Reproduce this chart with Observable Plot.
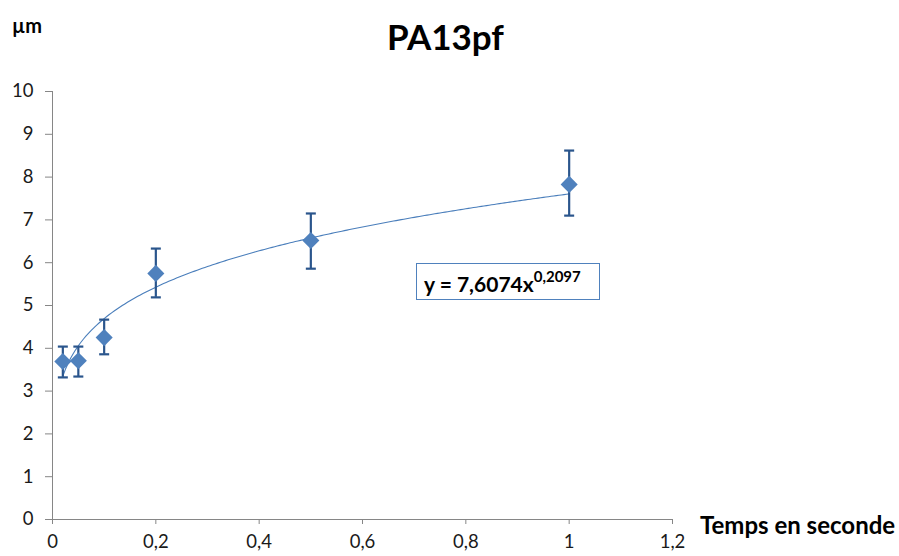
<!DOCTYPE html>
<html>
<head>
<meta charset="utf-8">
<script src="https://cdn.jsdelivr.net/npm/d3@7"></script>
<script src="https://cdn.jsdelivr.net/npm/@observablehq/plot@0.6"></script>
<style>
  html, body { margin: 0; padding: 0; background: #fff; }
  body { font-family: Lato, "Open Sans", sans-serif; }
  #wrap { position: relative; width: 899px; height: 556px; }
  #wrap svg { position: absolute; left: 0; top: 0; }
  .title { position: absolute; left: 387px; top: 19px; font-weight: bold; font-size: 35px; line-height: 1; color: #000; }
  .ylab { position: absolute; left: 12px; top: 15px; font-weight: bold; font-size: 20px; line-height: 1; }
  .xlab { position: absolute; left: 700px; top: 513px; font-weight: bold; font-size: 24px; line-height: 1; white-space: nowrap; }
  .eq { position: absolute; left: 416px; top: 263px; width: 184px; height: 37px; border: 1.5px solid #4f81bd; box-sizing: border-box; background: #fff; font-weight: bold; font-size: 21px; line-height: 1; padding: 9px 0 0 7px; white-space: nowrap; }
  .eq sup { font-size: 15px; position: relative; top: -4px; vertical-align: top; }
</style>
</head>
<body>
<div id="wrap"></div>
<script>
// ---- data ----
const times = [0.02, 0.05, 0.1, 0.2, 0.5, 1];
const means = [3.69, 3.71, 4.25, 5.75, 6.52, 7.83];
const upper = [4.04, 4.04, 4.67, 6.33, 7.15, 8.62];
const lower = [3.32, 3.34, 3.86, 5.19, 5.86, 7.10];
const xTicks = [0, 0.2, 0.4, 0.6, 0.8, 1, 1.2];
const xTickLabels = ["0", "0,2", "0,4", "0,6", "0,8", "1", "1,2"];
const yTicks = [0, 1, 2, 3, 4, 5, 6, 7, 8, 9, 10];
const yTickLabels = ["0", "1", "2", "3", "4", "5", "6", "7", "8", "9", "10"];
const eqA = 7.6074, eqB = 0.2097;   // trendline equation shown on chart
const titleText = "PA13pf";
const yLabel = "µm";
const xLabel = "Temps en seconde";

const data = times.map((t, i) => ({t, m: means[i], hi: upper[i], lo: lower[i]}));
const trend = d3.range(times[0], times[times.length - 1] + 1e-9, 0.005).map(t => ({t, v: eqA * Math.pow(t, eqB)}));

const cap = { draw(ctx) { ctx.moveTo(-5, 0); ctx.lineTo(5, 0); } };
const navy = "#2a558c";
const blue = "#4f81bd";
const grey = "#868686";

const chart = Plot.plot({
  width: 899, height: 556,
  marginLeft: 52, marginRight: 227, marginTop: 91, marginBottom: 37,
  style: { fontFamily: "Lato, 'Open Sans', sans-serif", fontSize: "18.5px", color: "#000", background: "transparent" },
  x: { domain: [0, 1.2] },
  y: { domain: [0, 10] },
  marks: [
    Plot.axisX({ ticks: xTicks, tickFormat: d => xTickLabels[xTicks.indexOf(d)], tickSize: 5, tickPadding: 10, stroke: grey, fill: "#1a1a1a", label: null }),
    Plot.axisY({ ticks: yTicks, tickFormat: d => yTickLabels[yTicks.indexOf(d)], tickSize: 7, tickPadding: 12, stroke: grey, fill: "#1a1a1a", label: null }),
    Plot.ruleY([0], { stroke: grey, strokeWidth: 1 }),
    Plot.ruleX([0], { stroke: grey, strokeWidth: 1 }),
    Plot.line(trend, { x: "t", y: "v", stroke: "#4a7ebb", strokeWidth: 1.1, curve: "linear" }),
    Plot.ruleX(data, { x: "t", y1: "lo", y2: "hi", stroke: navy, strokeWidth: 2.2 }),
    Plot.dot(data, { x: "t", y: "hi", symbol: cap, stroke: navy, strokeWidth: 2.2, r: 5 }),
    Plot.dot(data, { x: "t", y: "lo", symbol: cap, stroke: navy, strokeWidth: 2.2, r: 5 }),
    Plot.dot(data, { x: "t", y: "m", symbol: "diamond2", r: 7.7, fill: blue, stroke: "none" })
  ]
});

const wrap = document.getElementById("wrap");
wrap.appendChild(chart);
const add = (cls, html) => { const d = document.createElement("div"); d.className = cls; d.innerHTML = html; wrap.appendChild(d); };
add("title", titleText);
add("ylab", yLabel);
add("xlab", xLabel);
add("eq", "y = " + String(eqA).replace(".", ",") + "x<sup>" + String(eqB).replace(".", ",") + "</sup>");
</script>
</body>
</html>
